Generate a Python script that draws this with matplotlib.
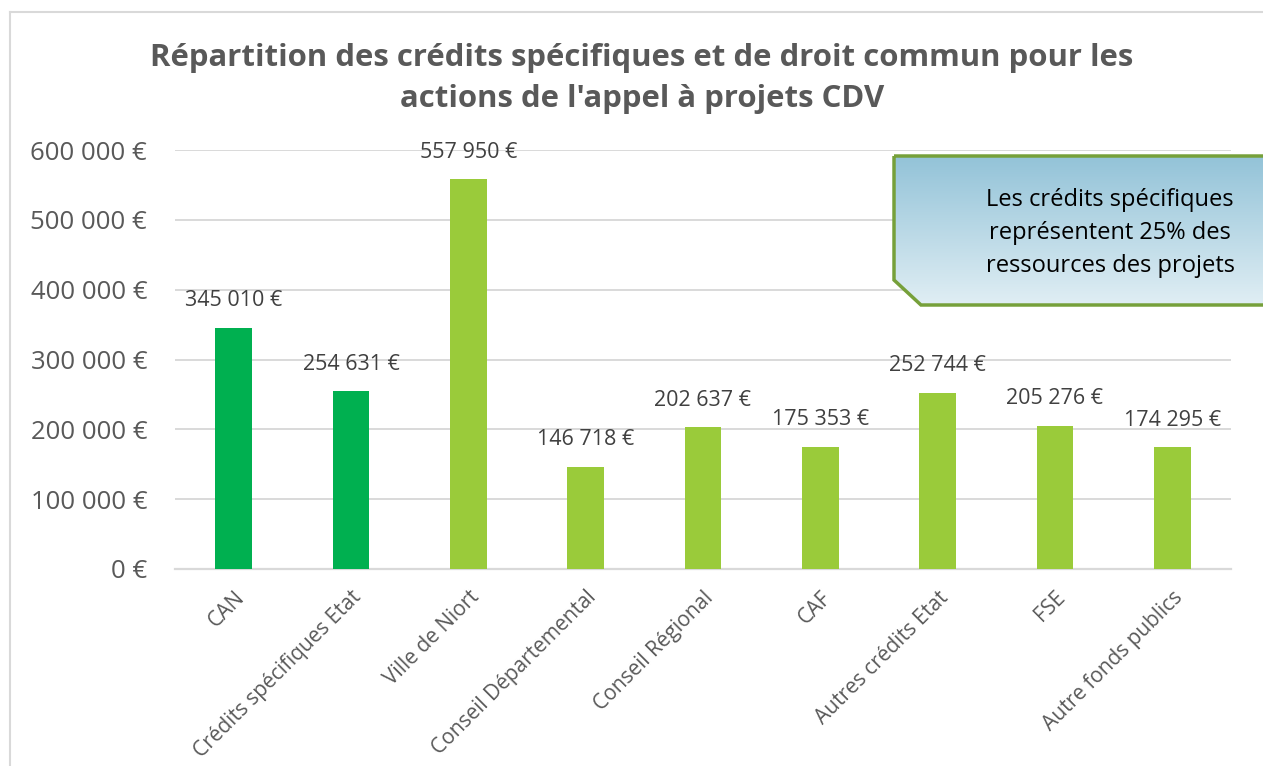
import matplotlib
matplotlib.use("Agg")
import matplotlib.pyplot as plt
import numpy as np
from matplotlib.patches import Polygon
from matplotlib.ticker import FuncFormatter

categories = ["CAN", "Crédits spécifiques Etat", "Ville de Niort", "Conseil Départemental",
              "Conseil Régional", "CAF", "Autres crédits Etat", "FSE", "Autre fonds publics"]
values = [345010, 254631, 557950, 146718, 202637, 175353, 252744, 205276, 174295]
colors = ["#00B050", "#00B050"] + ["#9ACB3A"] * 7
title = "Répartition des crédits spécifiques et de droit commun pour les\nactions de l'appel à projets CDV"
note = "Les crédits spécifiques\nreprésentent 25% des\nressources des projets"

plt.rcParams['font.family'] = ['Open Sans', 'DejaVu Sans']

W, H = 1263, 766
fig = plt.figure(figsize=(W / 100, H / 100), dpi=100)
fig.patch.set_facecolor("white")

def fx(x):
    return x / W

def fy(y):
    return 1 - y / H

ax = fig.add_axes([fx(175), fy(569), fx(1231) - fx(175), fy(150) - fy(569)])
x = np.arange(len(categories))
ax.bar(x, values, width=0.315, color=colors, zorder=3)
ax.set_xlim(-0.5, len(categories) - 0.5)
ax.set_ylim(0, 600000)
ax.set_yticks(np.arange(0, 600001, 100000))

def fmt(v, pos=None):
    v = int(round(v))
    if v == 0:
        return "0 €"
    s = f"{v:,}".replace(",", " ")
    return s + " €"

ax.yaxis.set_major_formatter(FuncFormatter(fmt))
ax.grid(axis="y", color="#D9D9D9", linewidth=1.4, zorder=0)
for s in ["top", "right", "left"]:
    ax.spines[s].set_visible(False)
ax.spines["bottom"].set_color("#D9D9D9")
ax.spines["bottom"].set_linewidth(1.6)
ax.tick_params(axis="both", length=0)
ax.tick_params(axis="y", labelsize=18.5, labelcolor="#595959", pad=20)
ax.set_xticks(x)
ax.set_xticklabels(categories, rotation=45, ha="right", va="top", rotation_mode="anchor",
                   fontsize=15, color="#595959")
ax.tick_params(axis="x", pad=13)

for xi, v in zip(x, values):
    ax.annotate(fmt(v), (xi, v), xytext=(0, 19.5), textcoords="offset points",
                ha="center", va="center", fontsize=15.5, color="#404040", zorder=4)

fig.text(fx(642), fy(78.5), title, ha="center", va="center", fontsize=22.4,
         fontweight="bold", color="#595959", linespacing=1.45)

# overlay for border and note box
ov = fig.add_axes([0, 0, 1, 1], zorder=10)
ov.set_xlim(0, W)
ov.set_ylim(H, 0)
ov.axis("off")
ov.patch.set_alpha(0)
ov.plot([10, 10], [12, H + 5], color="#D9D9D9", lw=1.5, clip_on=False)
ov.plot([10, W + 5], [12, 12], color="#D9D9D9", lw=1.5, clip_on=False)

verts = [(894, 156), (1275, 156), (1275, 305), (921, 305), (894, 280)]
grad = np.linspace(0, 1, 256).reshape(-1, 1)
top_c = np.array([0x93, 0xC3, 0xD8]) / 255
bot_c = np.array([0xE0, 0xEE, 0xF4]) / 255
img = top_c[None, None, :] * (1 - grad[:, :, None]) + bot_c[None, None, :] * grad[:, :, None]
im = ov.imshow(img, extent=(894, 1275, 305, 156), aspect="auto", zorder=1)
poly = Polygon(verts, closed=True, facecolor="none", edgecolor="#76A03A", lw=2.5, zorder=2)
ov.add_patch(poly)
im.set_clip_path(poly)
ov.set_xlim(0, W)
ov.set_ylim(H, 0)
ov.text(1110, 233, note, ha="center", va="center", fontsize=17, color="#000000",
        linespacing=1.5, zorder=3)

fig.savefig("out.png", dpi=100)
